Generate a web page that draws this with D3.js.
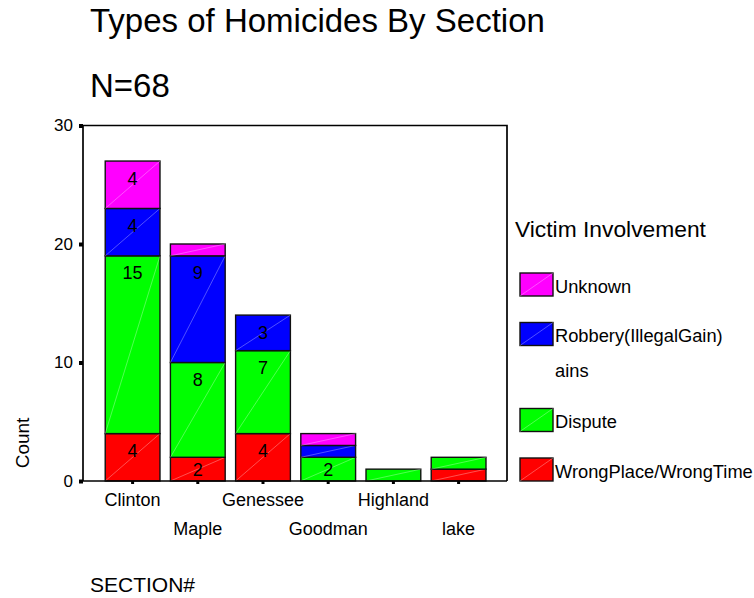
<!DOCTYPE html>
<html>
<head>
<meta charset="utf-8">
<script src="https://cdn.jsdelivr.net/npm/d3@7"></script>
<style>
  body { margin: 0; background: #fff; }
  svg { display: block; font-family: "Liberation Sans", Arial, sans-serif; }
</style>
</head>
<body>
<svg id="chart" width="754" height="598"></svg>
<script>
// Sections along the x axis
const sections = ["Clinton", "Maple", "Genessee", "Goodman", "Highland", "lake"];

// Counts per victim-involvement category (stacked bottom to top)
const wrongPlace = [4, 2, 4, 0, 0, 1];
const dispute    = [15, 8, 7, 2, 1, 1];
const robbery    = [4, 9, 3, 1, 0, 0];
const unknown    = [4, 1, 0, 1, 0, 0];

const seriesNames  = ["WrongPlace/WrongTime", "Dispute", "Robbery(IllegalGain)", "Unknown"];
const seriesColors = ["#ff0000", "#00ff00", "#0000ff", "#ff00ff"];
const yTicks = [0, 10, 20, 30];

const svg = d3.select("#chart");

const plot = { left: 83, right: 507, top: 125.5, bottom: 481 };

const x = d3.scaleBand()
  .domain(sections)
  .range([100, 491.2])
  .paddingInner(0.16)
  .paddingOuter(0.08);

const y = d3.scaleLinear().domain([0, 30]).range([plot.bottom, plot.top]);

// Build the table for d3.stack
const table = sections.map((s, i) => ({
  section: s,
  "WrongPlace/WrongTime": wrongPlace[i],
  "Dispute": dispute[i],
  "Robbery(IllegalGain)": robbery[i],
  "Unknown": unknown[i]
}));
const stacked = d3.stack().keys(seriesNames)(table);

// Titles
svg.append("text").attr("x", 90).attr("y", 32)
  .attr("font-size", 33).text("Types of Homicides By Section");
svg.append("text").attr("x", 90).attr("y", 97)
  .attr("font-size", 33).text("N=68");

// Frame (top and right edges)
svg.append("path")
  .attr("d", `M${plot.left},${plot.top}H${plot.right}V${plot.bottom}`)
  .attr("fill", "none").attr("stroke", "#000").attr("stroke-width", 1.7);

// Bars
const layers = svg.append("g").selectAll("g")
  .data(stacked).join("g")
  .attr("fill", (d, i) => seriesColors[i]);

layers.each(function(layer, li) {
  const g = d3.select(this);
  const segs = layer.map((d, i) => ({ sec: sections[i], y0: d[0], y1: d[1], v: d[1] - d[0] }))
    .filter(d => d.v > 0);
  g.selectAll("rect").data(segs).join("rect")
    .attr("x", d => x(d.sec))
    .attr("width", x.bandwidth())
    .attr("y", d => y(d.y1))
    .attr("height", d => y(d.y0) - y(d.y1))
    .attr("stroke", "#111").attr("stroke-width", 1.4);
  // faint diagonal across each segment
  g.selectAll("line").data(segs).join("line")
    .attr("x1", d => x(d.sec)).attr("y1", d => y(d.y0))
    .attr("x2", d => x(d.sec) + x.bandwidth()).attr("y2", d => y(d.y1))
    .attr("stroke", "#fff").attr("stroke-opacity", 0.45).attr("stroke-width", 0.7);
  // value labels for segments of 2 or more
  g.selectAll("text").data(segs.filter(d => d.v >= 2)).join("text")
    .attr("x", d => x(d.sec) + x.bandwidth() / 2)
    .attr("y", d => Math.min(y(d.y1) + 17, (y(d.y0) + y(d.y1)) / 2))
    .attr("dy", "0.36em")
    .attr("text-anchor", "middle")
    .attr("fill", "#000")
    .attr("font-size", 18)
    .text(d => d.v);
});

// Y axis
const yAxis = svg.append("g")
  .attr("transform", `translate(${plot.left},0)`)
  .call(d3.axisLeft(y).tickValues(yTicks).tickSize(4).tickPadding(6));
yAxis.select(".domain").attr("stroke", "#000").attr("stroke-width", 1.7)
  .attr("d", `M0,${plot.top}V${plot.bottom}`);
yAxis.selectAll(".tick line").attr("stroke", "#000").attr("stroke-width", 4);
yAxis.selectAll(".tick text").attr("font-size", 17).attr("fill", "#000")
  .attr("font-family", "Liberation Sans, Arial, sans-serif");

// X axis
const xAxis = svg.append("g")
  .attr("transform", `translate(0,${plot.bottom})`)
  .call(d3.axisBottom(x).tickSize(3).tickFormat(""));
xAxis.select(".domain").attr("stroke", "#000").attr("stroke-width", 1.7)
  .attr("d", `M${plot.left - 4},0H${plot.right}`);
xAxis.selectAll(".tick line").attr("stroke", "#000").attr("stroke-width", 3);

// Staggered section labels
svg.append("g").selectAll("text").data(sections).join("text")
  .attr("x", d => x(d) + x.bandwidth() / 2)
  .attr("y", (d, i) => i % 2 === 0 ? 505.7 : 535)
  .attr("text-anchor", "middle")
  .attr("font-size", 18)
  .text(d => d);

// Axis titles
svg.append("text")
  .attr("transform", "translate(29,443) rotate(-90)")
  .attr("text-anchor", "middle")
  .attr("font-size", 19)
  .text("Count");
svg.append("text").attr("x", 90).attr("y", 592)
  .attr("font-size", 21).text("SECTION#");

// Legend
const legend = svg.append("g");
legend.append("text").attr("x", 515).attr("y", 237)
  .attr("font-size", 22.8).text("Victim Involvement");

const legendItems = [
  { name: "Unknown", color: seriesColors[3], top: 273 },
  { name: "Robbery(IllegalGain)", color: seriesColors[2], top: 322.5 },
  { name: "Dispute", color: seriesColors[1], top: 408.5 },
  { name: "WrongPlace/WrongTime", color: seriesColors[0], top: 458 }
];
const li = legend.selectAll("g.item").data(legendItems).join("g").attr("class", "item");
li.append("rect")
  .attr("x", 520).attr("y", d => d.top)
  .attr("width", 33).attr("height", 23)
  .attr("fill", d => d.color)
  .attr("stroke", "#111").attr("stroke-width", 1.4);
li.append("line")
  .attr("x1", 520).attr("y1", d => d.top + 23)
  .attr("x2", 553).attr("y2", d => d.top)
  .attr("stroke", "#fff").attr("stroke-opacity", 0.45).attr("stroke-width", 0.7);
li.append("text")
  .attr("x", 555).attr("y", d => d.top + 19.7)
  .attr("font-size", 18.3)
  .text(d => d.name);
legend.append("text").attr("x", 555).attr("y", 376.7)
  .attr("font-size", 18.3).text("ains");
</script>
</body>
</html>
